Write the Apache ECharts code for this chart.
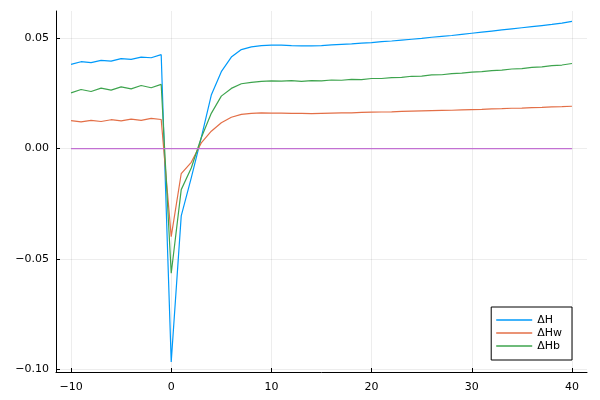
<!DOCTYPE html>
<html>
<head>
<meta charset="utf-8">
<script src="https://cdn.jsdelivr.net/npm/echarts@6/dist/echarts.min.js"></script>
<style>html,body{margin:0;padding:0;background:#fff;}#c{width:600px;height:400px;}</style>
</head>
<body>
<div id="c"></div>
<script>
const xs = [-10,-9,-8,-7,-6,-5,-4,-3,-2,-1,0,1,2,3,4,5,6,7,8,9,10,11,12,13,14,15,16,17,18,19,20,21,22,23,24,25,26,27,28,29,30,31,32,33,34,35,36,37,38,39,40];
const dH = [0.0382,0.0394,0.0390,0.0400,0.0397,0.0408,0.0405,0.0415,0.0412,0.0426,
  -0.0967,-0.0305,-0.0133,0.0050,0.0243,0.0349,0.0415,0.0449,0.0461,0.0467,
  0.0469,0.0469,0.0467,0.0466,0.0466,0.0467,0.0470,0.0473,0.0475,0.0478,
  0.0481,0.0485,0.0488,0.0492,0.0496,0.0500,0.0505,0.0509,0.0513,0.0518,
  0.0523,0.0528,0.0533,0.0538,0.0543,0.0548,0.0553,0.0558,0.0563,0.0569,0.0577];
const dHw = [0.0127,0.0121,0.0128,0.0123,0.0131,0.0126,0.0134,0.0128,0.0137,0.0132,
  -0.0399,-0.0113,-0.0062,0.0026,0.0079,0.0117,0.0142,0.0155,0.0160,0.0162,
  0.0161,0.0161,0.0160,0.0160,0.0159,0.0160,0.0161,0.0162,0.0162,0.0164,
  0.0165,0.0166,0.0167,0.0169,0.0170,0.0171,0.0172,0.0173,0.0174,0.0176,
  0.0177,0.0178,0.0180,0.0181,0.0183,0.0184,0.0186,0.0187,0.0189,0.0190,0.0192];
const dHb = [0.0253,0.0268,0.0259,0.0274,0.0265,0.0280,0.0271,0.0286,0.0276,0.0291,
  -0.0565,-0.0186,-0.0088,0.0049,0.0160,0.0238,0.0273,0.0294,0.0300,0.0305,
  0.0307,0.0306,0.0308,0.0305,0.0308,0.0307,0.0311,0.0310,0.0314,0.0313,
  0.0318,0.0318,0.0322,0.0323,0.0328,0.0329,0.0334,0.0335,0.0340,0.0342,
  0.0347,0.0349,0.0354,0.0356,0.0361,0.0363,0.0368,0.0371,0.0376,0.0379,0.0386];
const zeroLine = xs.map(() => 0);
const xTicks = [-10, 0, 10, 20, 30, 40];
const yTicks = [-0.10, -0.05, 0.00, 0.05];
const names = ['ΔH', 'ΔHw', 'ΔHb'];
const colors = ['#009AFA', '#E36F47', '#3EA44E', '#C271D2'];

function fmtX(v) { return String(v).replace('-', '\u2212'); }
function fmtY(v) { const s = Math.abs(v).toFixed(2); return (v < -1e-9 ? '\u2212' : '') + s; }

const pair = (ys) => xs.map((x, i) => [x, ys[i]]);
const font = 'DejaVu Sans';
const chart = echarts.init(document.getElementById('c'), null, {renderer: 'canvas'});
chart.setOption({
  animation: false,
  backgroundColor: '#fff',
  grid: {left: 56, right: 13, top: 11, bottom: 28, containLabel: false},
  xAxis: {
    type: 'value', min: -11.5, max: 41.5,
    axisLine: {show: true, onZero: false, lineStyle: {color: '#000', width: 1}},
    axisTick: {show: true, inside: true, length: 4, lineStyle: {color: '#000'}, customValues: xTicks},
    axisLabel: {customValues: xTicks, formatter: fmtX, color: '#000', fontSize: 11, fontFamily: font, margin: 10},
    splitLine: {show: true, lineStyle: {color: 'rgba(0,0,0,0.07)', width: 1}}
  },
  yAxis: {
    type: 'value', min: -0.1013, max: 0.0624,
    axisLine: {show: true, onZero: false, lineStyle: {color: '#000', width: 1}},
    axisTick: {show: true, inside: true, length: 4, lineStyle: {color: '#000'}, customValues: yTicks},
    axisLabel: {customValues: yTicks, formatter: fmtY, color: '#000', fontSize: 11, fontFamily: font, margin: 7},
    splitLine: {show: true, lineStyle: {color: 'rgba(0,0,0,0.07)', width: 1}}
  },
  legend: {
    data: names.map(n => ({name: n, icon: 'rect'})),
    orient: 'vertical', right: 28, bottom: 40,
    itemWidth: 36, itemHeight: 1.5, itemGap: 1,
    padding: [7, 10, 8, 5],
    borderColor: '#000', borderWidth: 1, borderRadius: 0, backgroundColor: '#fff',
    textStyle: {fontSize: 11, fontFamily: font, color: '#000', lineHeight: 12}
  },
  series: [
    {name: names[0], type: 'line', data: pair(dH), showSymbol: false, symbol: 'none', lineStyle: {width: 1.2, color: colors[0]}, itemStyle: {color: colors[0]}, z: 3},
    {name: names[1], type: 'line', data: pair(dHw), showSymbol: false, symbol: 'none', lineStyle: {width: 1.2, color: colors[1]}, itemStyle: {color: colors[1]}, z: 3},
    {name: names[2], type: 'line', data: pair(dHb), showSymbol: false, symbol: 'none', lineStyle: {width: 1.2, color: colors[2]}, itemStyle: {color: colors[2]}, z: 3},
    {name: 'zero', type: 'line', data: pair(zeroLine), showSymbol: false, symbol: 'none', lineStyle: {width: 1.2, color: colors[3]}, itemStyle: {color: colors[3]}, z: 3}
  ]
});
</script>
</body>
</html>
